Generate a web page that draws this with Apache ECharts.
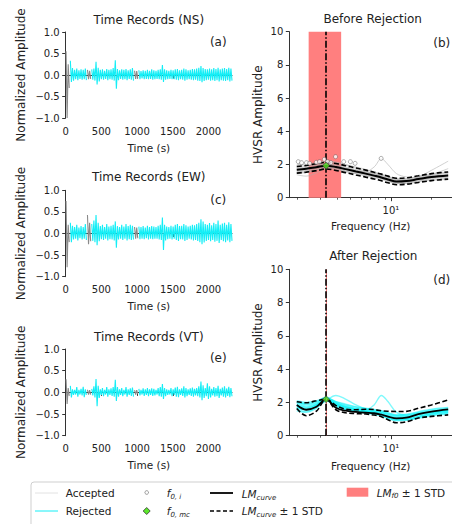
<!DOCTYPE html>
<html><head><meta charset="utf-8">
<script src="https://cdn.jsdelivr.net/npm/echarts@6/dist/echarts.min.js"></script>
<style>html,body{margin:0;padding:0;background:#fff}#c{width:452px;height:524px}</style>
</head><body><div id="c"></div>
<script>
// ---------- Time records: per-30 s bin envelope (max / min) ----------
const binWidth = 30; // seconds
const grayBins = [0, 1, 10, 11, 32, 33]; // windows drawn in gray
const timeTicks = [0, 500, 1000, 1500, 2000];
const nsTop = [0.55,0.25,0.33,0.16,0.12,0.15,0.11,0.13,0.12,0.15,
 0.12,0.10,0.13,0.15,0.31,0.17,0.12,0.13,0.10,0.14,
 0.12,0.13,0.16,0.34,0.14,0.11,0.13,0.12,0.14,0.11,
 0.13,0.16,0.10,0.09,0.11,0.09,0.11,0.10,0.12,0.10,
 0.13,0.11,0.10,0.12,0.13,0.23,0.13,0.11,0.10,0.12,
 0.11,0.13,0.14,0.11,0.12,0.15,0.13,0.11,0.12,0.14,
 0.13,0.15,0.17,0.21,0.16,0.14,0.13,0.15,0.13,0.16,
 0.14,0.17,0.13,0.15,0.16,0.14,0.17,0.15];
const nsBot = [-1.0,-0.30,-0.16,-0.13,-0.10,-0.12,-0.09,-0.11,-0.10,-0.12,
 -0.10,-0.09,-0.11,-0.13,-0.22,-0.15,-0.10,-0.11,-0.09,-0.12,
 -0.10,-0.11,-0.13,-0.32,-0.12,-0.09,-0.11,-0.10,-0.12,-0.09,
 -0.11,-0.13,-0.09,-0.08,-0.10,-0.08,-0.10,-0.09,-0.10,-0.09,
 -0.11,-0.10,-0.09,-0.10,-0.11,-0.16,-0.11,-0.10,-0.09,-0.10,
 -0.10,-0.11,-0.12,-0.10,-0.11,-0.13,-0.11,-0.10,-0.11,-0.12,
 -0.11,-0.13,-0.14,-0.17,-0.14,-0.12,-0.11,-0.13,-0.12,-0.14,
 -0.12,-0.15,-0.12,-0.13,-0.14,-0.12,-0.15,-0.13];
const ewTop = [0.75,0.20,0.25,0.18,0.15,0.20,0.14,0.17,0.15,0.22,
 0.43,0.25,0.22,0.30,0.43,0.25,0.17,0.20,0.15,0.22,
 0.16,0.18,0.20,0.28,0.17,0.15,0.20,0.16,0.22,0.17,
 0.20,0.18,0.15,0.14,0.16,0.15,0.17,0.14,0.18,0.15,
 0.17,0.16,0.15,0.18,0.20,0.37,0.20,0.16,0.15,0.18,
 0.16,0.20,0.22,0.17,0.18,0.22,0.19,0.16,0.18,0.20,
 0.19,0.22,0.25,0.33,0.28,0.22,0.20,0.24,0.19,0.25,
 0.22,0.30,0.20,0.23,0.25,0.20,0.26,0.22];
const ewBot = [-0.78,-0.20,-0.20,-0.14,-0.12,-0.16,-0.11,-0.14,-0.12,-0.15,
 -0.25,-0.18,-0.17,-0.20,-0.27,-0.18,-0.13,-0.15,-0.12,-0.16,
 -0.13,-0.14,-0.16,-0.33,-0.14,-0.12,-0.15,-0.12,-0.16,-0.13,
 -0.15,-0.14,-0.12,-0.11,-0.13,-0.12,-0.13,-0.11,-0.14,-0.12,
 -0.13,-0.12,-0.12,-0.14,-0.15,-0.38,-0.16,-0.13,-0.12,-0.14,
 -0.12,-0.15,-0.17,-0.13,-0.14,-0.17,-0.15,-0.12,-0.14,-0.16,
 -0.15,-0.17,-0.20,-0.25,-0.21,-0.17,-0.15,-0.18,-0.15,-0.19,
 -0.17,-0.22,-0.15,-0.18,-0.20,-0.16,-0.20,-0.17];
const vtTop = [0.30,0.10,0.15,0.07,0.06,0.12,0.06,0.08,0.13,0.07,
 0.06,0.05,0.08,0.14,0.31,0.15,0.07,0.10,0.06,0.12,
 0.07,0.09,0.12,0.29,0.12,0.07,0.10,0.06,0.12,0.07,
 0.09,0.11,0.05,0.05,0.08,0.06,0.09,0.07,0.10,0.07,
 0.09,0.08,0.06,0.10,0.12,0.19,0.10,0.07,0.06,0.10,
 0.07,0.11,0.13,0.07,0.09,0.14,0.10,0.07,0.09,0.11,
 0.08,0.10,0.14,0.25,0.16,0.10,0.21,0.14,0.08,0.12,
 0.10,0.15,0.08,0.11,0.14,0.09,0.13,0.10];
const vtBot = [-0.27,-0.08,-0.12,-0.06,-0.05,-0.10,-0.05,-0.07,-0.11,-0.06,
 -0.05,-0.05,-0.07,-0.12,-0.32,-0.13,-0.06,-0.09,-0.05,-0.10,
 -0.06,-0.08,-0.10,-0.20,-0.10,-0.06,-0.09,-0.05,-0.10,-0.06,
 -0.08,-0.10,-0.05,-0.04,-0.07,-0.05,-0.08,-0.06,-0.09,-0.06,
 -0.08,-0.07,-0.05,-0.09,-0.10,-0.15,-0.09,-0.06,-0.05,-0.09,
 -0.06,-0.10,-0.11,-0.06,-0.08,-0.12,-0.09,-0.06,-0.08,-0.10,
 -0.07,-0.09,-0.12,-0.18,-0.13,-0.09,-0.15,-0.12,-0.07,-0.10,
 -0.09,-0.13,-0.07,-0.10,-0.12,-0.08,-0.11,-0.09];

// ---------- HVSR curves ----------
const freq = [2.0, 2.35, 2.8, 3.3, 3.9, 4.6, 5.5, 6.5, 7.5, 8.5, 9.5, 11, 13, 16, 20, 26.6];
const minorFreqTicks = [2, 3, 4, 5, 6, 7, 8, 9, 20];
const majorFreqTicks = [10];
const f0 = 3.3;
const f0Band = [2.45, 4.27];
// Before rejection
const meanB  = [1.68,1.74,1.84,1.93,1.85,1.72,1.58,1.45,1.33,1.22,1.10,0.97,1.00,1.12,1.24,1.33];
const upperB = [1.88,1.94,2.05,2.13,2.06,1.93,1.79,1.66,1.53,1.42,1.30,1.17,1.20,1.32,1.45,1.55];
const lowerB = [1.48,1.54,1.63,1.73,1.64,1.51,1.37,1.24,1.13,1.02,0.90,0.78,0.81,0.92,1.03,1.12];
const windowsB = [
 [1.95,2.02,2.10,2.18,2.10,1.98,1.85,1.70,1.56,1.43,1.30,1.15,1.16,1.30,1.45,1.55],
 [1.50,1.55,1.68,1.80,1.74,1.60,1.45,1.32,1.20,1.10,0.98,0.86,0.90,1.00,1.10,1.16],
 [1.82,1.88,1.98,2.05,1.96,1.80,1.66,1.52,1.42,1.30,1.15,1.00,1.03,1.15,1.30,1.40],
 [1.60,1.62,1.78,1.90,1.86,1.75,1.62,1.58,1.85,2.35,2.00,1.45,1.25,1.20,1.30,1.35],
 [1.72,1.78,1.85,1.95,1.90,1.78,1.60,1.42,1.28,1.15,1.05,0.95,1.02,1.25,1.65,2.20],
 [1.38,1.30,1.50,1.75,1.70,1.56,1.45,1.35,1.25,1.15,1.04,0.90,0.86,0.95,1.05,1.10],
 [2.02,1.95,2.00,2.22,2.15,2.00,1.80,1.60,1.48,1.36,1.22,1.06,1.10,1.22,1.36,1.46],
 [1.66,1.72,1.85,1.95,1.86,1.70,1.56,1.45,1.36,1.25,1.14,1.00,0.95,1.06,1.20,1.26],
 [1.74,1.72,1.90,2.00,1.90,1.75,1.60,1.50,1.42,1.33,1.24,1.10,1.06,1.15,1.26,1.35],
 [1.56,1.64,1.72,1.85,1.80,1.70,1.60,1.45,1.32,1.20,1.06,0.92,0.96,1.12,1.38,1.75],
 [1.86,1.82,1.92,2.05,2.00,1.86,1.70,1.56,1.46,1.36,1.25,1.10,1.12,1.26,1.40,1.50],
 [1.45,1.52,1.66,1.84,1.78,1.62,1.50,1.40,1.30,1.18,1.03,0.86,0.88,1.00,1.16,1.22]
];
const f0iFreq = [2.05,2.17,2.36,2.49,2.79,2.95,3.2,3.38,3.58,3.88,4.46,5.0,5.42,8.46];
const f0iAmp  = [2.17,2.11,2.11,2.07,2.13,2.17,2.31,2.17,2.11,2.47,2.17,2.17,2.07,2.37];
const f0mcB = [3.3, 1.93];
// After rejection
const meanD  = [1.84,1.56,1.74,2.19,1.68,1.50,1.43,1.38,1.35,1.26,1.15,1.04,1.08,1.30,1.45,1.58];
const upperD = [2.04,1.98,2.10,2.19,1.82,1.60,1.56,1.59,1.57,1.50,1.47,1.45,1.46,1.65,1.85,2.15];
const lowerD = [1.64,1.20,1.48,2.19,1.56,1.38,1.33,1.30,1.24,1.14,0.96,0.78,0.84,1.06,1.16,1.25];
const windowsD = [
 [2.10,2.00,2.10,2.28,2.05,1.85,1.72,1.62,1.55,1.48,1.38,1.26,1.30,1.45,1.60,1.70],
 [1.75,1.62,1.85,2.20,1.90,1.70,1.60,1.50,1.42,1.32,1.20,1.06,1.10,1.30,1.45,1.56],
 [1.92,1.78,1.90,2.15,1.80,1.60,1.50,1.45,1.40,1.30,1.16,1.00,1.00,1.15,1.30,1.40],
 [1.60,1.45,1.70,2.10,2.42,2.20,1.85,1.60,1.50,1.40,1.28,1.15,1.15,1.30,1.40,1.50],
 [2.00,1.85,1.95,2.20,1.95,1.75,1.60,1.55,1.85,2.42,2.05,1.40,1.25,1.35,1.42,1.52],
 [1.50,1.40,1.65,2.10,1.75,1.55,1.45,1.35,1.28,1.18,1.02,0.90,0.92,1.05,1.20,1.30],
 [1.98,1.95,2.05,2.32,2.00,1.80,1.66,1.55,1.50,1.42,1.30,1.20,1.20,1.35,1.50,1.60],
 [1.80,1.68,1.82,2.15,1.85,1.65,1.50,1.45,1.38,1.28,1.12,1.00,1.02,1.18,1.35,1.45],
 [1.70,1.55,1.75,2.20,1.90,1.70,1.55,1.45,1.36,1.26,1.10,0.95,0.95,1.10,1.25,1.35],
 [2.05,1.90,2.00,2.25,2.05,1.90,1.75,1.65,1.58,1.50,1.36,1.22,1.25,1.40,1.55,1.65],
 [1.65,1.58,1.75,2.15,1.85,1.60,1.48,1.40,1.32,1.22,1.05,0.95,1.00,1.15,1.30,1.40],
 [1.85,1.72,1.85,2.20,1.95,1.75,1.62,1.50,1.45,1.38,1.22,1.10,1.12,1.25,1.40,1.50]
];
const f0mcD = [3.3, 2.19];

// ---------- helpers ----------
const FONT = 'DejaVu Sans';
const TXT = '#222';
const AX = '#333';
const CYAN = '#14eef6';
function zigzag(tops, bots, want) {
  const out = [];
  tops.forEach((tp, i) => {
    const t0 = i * binWidth;
    if (want(grayBins.includes(i))) { out.push([t0 + 5, tp]); out.push([t0 + 20, bots[i]]); }
    else out.push([t0 + 12, null]);
  });
  return out;
}
const pairs = (xs, ys) => xs.map((x, i) => [x, ys[i]]);
const fmtAmp = v => (v < 0 ? '\u2212' : '') + Math.abs(v).toFixed(1);

const timeGrids = [{top: 32, height: 86}, {top: 190.3, height: 86.4}, {top: 349, height: 86.7}];
const grids = timeGrids.map(g => ({left: 65.7, width: 166.3, top: g.top, height: g.height}))
  .concat([{left: 289.3, width: 166.7, top: 31.7, height: 166}, {left: 289.3, width: 166.7, top: 269.3, height: 166.4}]);

const xAxes = [], yAxes = [];
for (let i = 0; i < 3; i++) {
  xAxes.push({type: 'value', gridIndex: i, min: 0, max: 2330, position: 'bottom',
    axisLine: {lineStyle: {color: AX, width: 1}},
    axisTick: {customValues: timeTicks, length: 3.5, lineStyle: {color: AX}},
    axisLabel: {customValues: timeTicks, color: TXT, fontSize: 10, fontFamily: FONT, margin: 8, formatter: v => String(v)},
    splitLine: {show: false},
    name: 'Time (s)', nameLocation: 'middle', nameGap: 24,
    nameTextStyle: {color: TXT, fontSize: 10.5, fontFamily: FONT}});
  yAxes.push({type: 'value', gridIndex: i, min: -1, max: 1, interval: 0.5,
    axisLine: {show: true, lineStyle: {color: AX}},
    axisTick: {show: true, length: 3.5, lineStyle: {color: AX}},
    axisLabel: {color: TXT, fontSize: 10, fontFamily: FONT, margin: 6, formatter: fmtAmp},
    splitLine: {show: false},
    name: 'Normalized Amplitude', nameLocation: 'middle', nameGap: 39,
    nameTextStyle: {color: TXT, fontSize: 12, fontFamily: FONT}});
}
const fmin = 1.76, fmax = 28.4;
[3, 4].forEach((g, k) => {
  xAxes.push({type: 'log', logBase: 10, gridIndex: g, min: fmin, max: fmax, position: 'bottom',
    axisLine: {lineStyle: {color: AX}},
    axisTick: {customValues: majorFreqTicks, length: 3.5, lineStyle: {color: AX}},
    axisLabel: {customValues: majorFreqTicks, color: TXT, fontSize: 10, fontFamily: FONT, margin: 8,
      formatter: v => Math.round(v) === 10 ? '10\u00B9' : ''},
    splitLine: {show: false}, minorTick: {show: false},
    name: 'Frequency (Hz)', nameLocation: 'middle', nameGap: k === 0 ? 23 : 25,
    nameTextStyle: {color: TXT, fontSize: 10.5, fontFamily: FONT}});
  yAxes.push({type: 'value', gridIndex: g, min: 0, max: 10, interval: 2,
    axisLine: {show: true, lineStyle: {color: AX}},
    axisTick: {show: true, length: 3.5, lineStyle: {color: AX}},
    axisLabel: {color: TXT, fontSize: 10, fontFamily: FONT, margin: 6},
    splitLine: {show: false},
    name: 'HVSR Amplitude', nameLocation: 'middle', nameGap: 25,
    nameTextStyle: {color: TXT, fontSize: 12, fontFamily: FONT}});
});
// minor tick axes (indices 5, 6)
[3, 4].forEach(g => {
  xAxes.push({type: 'log', logBase: 10, gridIndex: g, min: fmin, max: fmax, position: 'bottom',
    axisLine: {show: false},
    axisTick: {show: true, customValues: minorFreqTicks, length: 2, lineStyle: {color: AX, width: 0.8}},
    axisLabel: {show: false}, splitLine: {show: false}});
});

const series = [];
const recs = [[nsTop, nsBot], [ewTop, ewBot], [vtTop, vtBot]];
recs.forEach((r, i) => {
  series.push({type: 'line', xAxisIndex: i, yAxisIndex: i, data: zigzag(r[0], r[1], g => !g),
    showSymbol: false, symbol: 'none', connectNulls: false, silent: true,
    lineStyle: {color: CYAN, width: 1.1}, z: 2});
  series.push({type: 'line', xAxisIndex: i, yAxisIndex: i, data: zigzag(r[0], r[1], g => g),
    showSymbol: false, symbol: 'none', connectNulls: false, silent: true,
    lineStyle: {color: '#8a8a8a', width: 1.1}, z: 3});
});
const lineS = (xi, yi, ys, style, z) => ({type: 'line', xAxisIndex: xi, yAxisIndex: yi, data: pairs(freq, ys),
  smooth: 0.35, showSymbol: false, symbol: 'none', silent: true, lineStyle: style, z});
// Panel b
series.push({type: 'line', xAxisIndex: 3, yAxisIndex: 3, data: pairs(freq, meanB), showSymbol: false, symbol: 'none',
  lineStyle: {opacity: 0}, silent: true, z: 1,
  markArea: {silent: true, itemStyle: {color: '#ff7f7f', opacity: 1}, data: [[{xAxis: f0Band[0]}, {xAxis: f0Band[1]}]]}});
windowsB.forEach(w => series.push(lineS(3, 3, w, {color: '#ababab', width: 0.7, opacity: 0.8}, 2)));
series.push(lineS(3, 3, upperB, {color: '#000', width: 1.6, type: [5, 2.5]}, 3));
series.push(lineS(3, 3, lowerB, {color: '#000', width: 1.6, type: [5, 2.5]}, 3));
series.push(lineS(3, 3, meanB, {color: '#000', width: 2}, 3));
series.push({type: 'line', xAxisIndex: 3, yAxisIndex: 3, data: [], z: 4, silent: true,
  markLine: {silent: true, symbol: 'none', label: {show: false},
    lineStyle: {color: '#000', width: 1.6, type: [7, 2, 1.5, 2]}, data: [{xAxis: f0}]}});
series.push({type: 'scatter', xAxisIndex: 3, yAxisIndex: 3, data: pairs(f0iFreq, f0iAmp), symbol: 'circle', symbolSize: 4,
  itemStyle: {color: '#fff', borderColor: '#555', borderWidth: 0.6}, silent: true, z: 5});
series.push({type: 'scatter', xAxisIndex: 3, yAxisIndex: 3, data: [f0mcB], symbol: 'diamond', symbolSize: 7,
  itemStyle: {color: '#5be82a', borderColor: '#333', borderWidth: 0.8}, silent: true, z: 6});
// Panel d
series.push({type: 'line', xAxisIndex: 4, yAxisIndex: 4, data: [], z: 1, silent: true,
  markLine: {silent: true, symbol: 'none', label: {show: false},
    lineStyle: {color: '#ff8080', width: 1, type: 'solid'}, data: [{xAxis: f0}]}});
windowsD.forEach(w => series.push(lineS(4, 4, w, {color: '#00f4fa', width: 1.4, opacity: 0.5}, 2)));
series.push(lineS(4, 4, upperD, {color: '#000', width: 1.6, type: [5, 2.5]}, 3));
series.push(lineS(4, 4, lowerD, {color: '#000', width: 1.6, type: [5, 2.5]}, 3));
series.push(lineS(4, 4, meanD, {color: '#000', width: 1.8}, 3));
series.push({type: 'line', xAxisIndex: 4, yAxisIndex: 4, data: [], z: 4, silent: true,
  markLine: {silent: true, symbol: 'none', label: {show: false},
    lineStyle: {color: '#000', width: 1.6, type: [7, 2, 1.5, 2]}, data: [{xAxis: f0}]}});
series.push({type: 'scatter', xAxisIndex: 4, yAxisIndex: 4, data: [f0mcD], symbol: 'diamond', symbolSize: 7,
  itemStyle: {color: '#5be82a', borderColor: '#333', borderWidth: 0.8}, silent: true, z: 6});

// ---------- titles, panel letters, legend ----------
const txt = (text, x, y, size, align) => ({type: 'text', x, y, silent: true,
  style: {text, fontSize: size, fontFamily: FONT, fill: TXT, align: align || 'center', verticalAlign: 'middle'}});
const rich = (text, x, y) => ({type: 'text', x, y, silent: true,
  style: {text, fontFamily: FONT, fill: TXT, align: 'left', verticalAlign: 'middle',
    rich: {i: {fontStyle: 'italic', fontSize: 10.5, fontFamily: FONT, fill: TXT, lineHeight: 14, verticalAlign: 'middle'},
           s: {fontStyle: 'italic', fontSize: 7, fontFamily: FONT, fill: TXT, lineHeight: 14, verticalAlign: 'bottom'},
           n: {fontSize: 10.5, fontFamily: FONT, fill: TXT, lineHeight: 14, verticalAlign: 'middle'}}}});
const graphic = [
  txt('Time Records (NS)', 148.8, 20, 12), txt('Time Records (EW)', 148.8, 176.7, 12), txt('Time Records (VT)', 148.8, 336.7, 12),
  txt('Before Rejection', 372.7, 19, 12), txt('After Rejection', 373.3, 256, 12),
  txt('(a)', 218.3, 41.7, 12), txt('(c)', 218.3, 200, 12), txt('(e)', 218.3, 358.3, 12),
  txt('(b)', 441.7, 43, 12), txt('(d)', 441.7, 280, 12),
  {type: 'rect', silent: true, shape: {x: 31, y: 482, width: 440, height: 60, r: 3}, style: {fill: '#fff', stroke: '#cfcfcf', lineWidth: 1}},
  {type: 'line', silent: true, shape: {x1: 35, y1: 493, x2: 58, y2: 493}, style: {stroke: '#e2e2e2', lineWidth: 1}},
  {type: 'line', silent: true, shape: {x1: 35, y1: 511, x2: 58, y2: 511}, style: {stroke: CYAN, lineWidth: 1}},
  txt('Accepted', 65.7, 493, 10.5, 'left'), txt('Rejected', 65.7, 511, 10.5, 'left'),
  {type: 'circle', silent: true, shape: {cx: 146.7, cy: 492.5, r: 1.8}, style: {fill: '#fff', stroke: '#555', lineWidth: 0.6}},
  {type: 'polygon', silent: true, shape: {points: [[146.7, 507.5], [150.2, 511], [146.7, 514.5], [143.2, 511]]}, style: {fill: '#5be82a', stroke: '#333', lineWidth: 0.8}},
  rich('{i|f}{s|0, i}', 166.7, 493), rich('{i|f}{s|0, mc}', 166.7, 511),
  {type: 'line', silent: true, shape: {x1: 210, y1: 493, x2: 233, y2: 493}, style: {stroke: '#000', lineWidth: 1.8}},
  {type: 'line', silent: true, shape: {x1: 210, y1: 511, x2: 233, y2: 511}, style: {stroke: '#000', lineWidth: 1.5, lineDash: [4, 2.5]}},
  rich('{i|LM}{s|curve}', 241.7, 494), rich('{i|LM}{s|curve}{n| \u00B1 1 STD}', 241.7, 511),
  {type: 'rect', silent: true, shape: {x: 346.7, y: 487.7, width: 21.6, height: 9}, style: {fill: '#ff7f7f'}},
  rich('{i|LM}{s|f0}{n| \u00B1 1 STD}', 376.7, 492.5)
];

const chart = echarts.init(document.getElementById('c'), null, {renderer: 'svg'});
chart.setOption({animation: false, backgroundColor: '#fff', textStyle: {fontFamily: FONT},
  grid: grids, xAxis: xAxes, yAxis: yAxes, series, graphic});
</script></body></html>
